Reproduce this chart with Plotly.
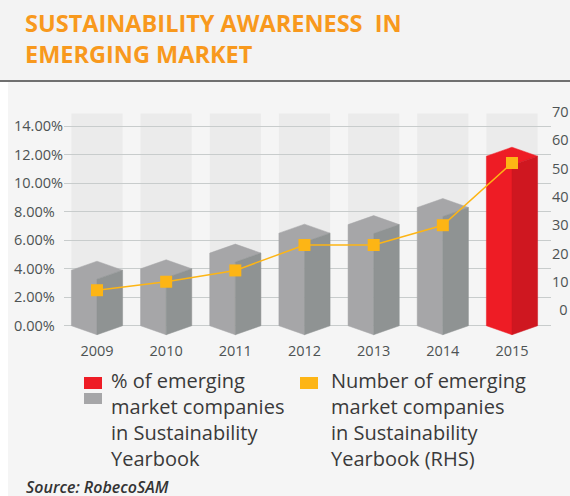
import plotly.graph_objects as go

YEARS = ["2009", "2010", "2011", "2012", "2013", "2014", "2015"]
SHARE_PCT = [3.9, 4.0, 5.1, 6.5, 7.1, 8.3, 11.9]
COMPANIES = [7, 10, 14, 23, 23, 30, 52]
LEFT_TICKS = [0, 2, 4, 6, 8, 10, 12, 14]
RIGHT_TICKS = [0, 10, 20, 30, 40, 50, 60, 70]
HIGHLIGHT = "2015"

W, H = 570, 496
# plot area in page pixels
PL, PR, PT, PB = 64, 551, 112, 340


def px(x):
    return (x - PL) / (PR - PL)


def py(y):
    return (PB - y) / (PB - PT)


HALF = 0.37    # half bar width, category units
DEPTH = 0.63   # prism depth, % units

GREY = ("#a6a6a8", "#8f9393")
RED = ("#ee1c25", "#cf1720")
ORANGE = "#fdb515"
COLUMN_BG = "#ebebeb"
GRID = "#c8cccc"
FONT = "Open Sans"
TEXT = "#3a3a3a"
TICK = "#4d5353"

fig = go.Figure()
xs = list(range(len(YEARS)))

for i, (yr, v) in enumerate(zip(YEARS, SHARE_PCT)):
    light, dark = RED if yr == HIGHLIGHT else GREY
    # left face plus top rhombus
    fig.add_trace(go.Scatter(
        x=[i - HALF, i - HALF, i, i + HALF, i, i, i - HALF],
        y=[0, v, v + DEPTH, v, v - DEPTH, -DEPTH, 0],
        fill="toself", fillcolor=light, mode="lines",
        line={"color": light, "width": 0.5},
        hoverinfo="skip", showlegend=False,
    ))
    # right face
    fig.add_trace(go.Scatter(
        x=[i, i + HALF, i + HALF, i, i],
        y=[v - DEPTH, v, 0, -DEPTH, v - DEPTH],
        fill="toself", fillcolor=dark, mode="lines",
        line={"color": dark, "width": 0.5},
        hoverinfo="skip", showlegend=False,
    ))
    fig.add_shape(type="rect", xref="x", yref="y", x0=i - HALF, x1=i + HALF, y0=0, y1=14.9,
                  fillcolor=COLUMN_BG, line={"width": 0}, layer="below")

fig.add_trace(go.Scatter(
    x=xs, y=COMPANIES, yaxis="y2", mode="lines+markers",
    line={"color": ORANGE, "width": 1.5},
    marker={"symbol": "square", "size": 12, "color": ORANGE},
    showlegend=False,
))

tickfont = {"family": FONT, "size": 14.5, "color": TICK}
fig.update_layout(
    width=W, height=H,
    margin={"l": PL, "r": W - PR, "t": PT, "b": H - PB, "pad": 0},
    paper_bgcolor="#f5f5f5", plot_bgcolor="#f5f5f5",
    font={"family": FONT, "color": TEXT},
    xaxis={"range": [-0.477, 6.564], "tickvals": xs, "ticktext": YEARS, "showgrid": False,
           "zeroline": False, "showline": False, "ticks": "", "tickfont": tickfont,
           "automargin": False},
    yaxis={"range": [-1, 15], "tickvals": LEFT_TICKS,
           "ticktext": [f"{v:.2f}%" + ("\u2007" if v < 10 else "") for v in LEFT_TICKS],
           "showgrid": True, "gridcolor": GRID, "gridwidth": 1, "zeroline": False,
           "showline": False, "ticks": "", "tickfont": tickfont, "automargin": False},
    yaxis2={"range": [-10.61, 70.05], "overlaying": "y", "side": "right", "tickvals": RIGHT_TICKS,
            "ticktext": [("\u2002" if v < 10 else "") + str(v) for v in RIGHT_TICKS],
            "showgrid": False, "zeroline": False, "showline": False, "ticks": "",
            "tickfont": tickfont, "automargin": False},
    showlegend=False,
)

# header band, rule and left white strip
fig.add_shape(type="rect", xref="paper", yref="paper", x0=px(0), x1=px(W), y0=py(0), y1=py(81),
              fillcolor="#f3f3f3", line={"width": 0}, layer="below")
fig.add_shape(type="line", xref="paper", yref="paper", x0=px(0), x1=px(W), y0=py(81), y1=py(81),
              line={"color": "#707070", "width": 2})
fig.add_shape(type="rect", xref="paper", yref="paper", x0=px(0), x1=px(8), y0=py(82), y1=py(H),
              fillcolor="#ffffff", line={"width": 0}, layer="below")

fig.add_annotation(
    text="SUSTAINABILITY AWARENESS\u00a0 IN<br>EMERGING MARKET",
    xref="paper", yref="paper", x=px(23), y=py(5), xanchor="left", yanchor="top",
    align="left", showarrow=False,
    font={"family": FONT, "size": 23.5, "color": "#f8991d", "weight": "bold"},
)

# legend
legend_text = {"size": 20, "color": TEXT, "family": FONT}
fig.add_shape(type="rect", xref="paper", yref="paper", x0=px(84), x1=px(102), y0=py(377), y1=py(389),
              fillcolor=RED[0], line={"width": 0})
fig.add_shape(type="rect", xref="paper", yref="paper", x0=px(84), x1=px(102), y0=py(393), y1=py(404),
              fillcolor=GREY[0], line={"width": 0})
fig.add_shape(type="rect", xref="paper", yref="paper", x0=px(300), x1=px(318), y0=py(377), y1=py(389),
              fillcolor=ORANGE, line={"width": 0})
fig.add_annotation(
    text="% of emerging<br>market companies<br>in Sustainability<br>Yearbook",
    xref="paper", yref="paper", x=px(109), y=py(365), xanchor="left", yanchor="top",
    align="left", showarrow=False, font=legend_text,
)
fig.add_annotation(
    text="Number of emerging<br>market companies<br>in Sustainability<br>Yearbook (RHS)",
    xref="paper", yref="paper", x=px(329), y=py(365), xanchor="left", yanchor="top",
    align="left", showarrow=False, font=legend_text,
)

fig.add_annotation(
    text="Source: RobecoSAM",
    xref="paper", yref="paper", x=px(24), y=py(474), xanchor="left", yanchor="top",
    align="left", showarrow=False,
    font={"family": FONT, "size": 16, "color": "#333333", "style": "italic", "weight": 600},
)

# drop the page's default body margin so the figure sits at the window's corner
fig.write_html("out.html", config={"displayModeBar": False},
               post_script="document.body.style.margin='0';")
